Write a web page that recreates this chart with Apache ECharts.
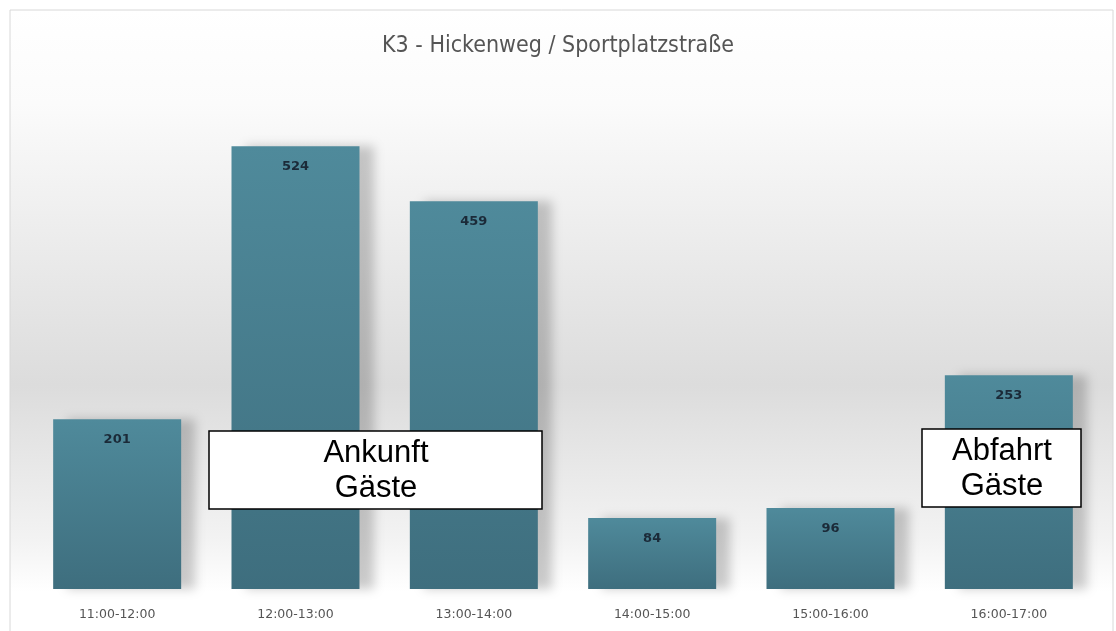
<!DOCTYPE html>
<html><head><meta charset="utf-8">
<script src="https://cdn.jsdelivr.net/npm/echarts@6/dist/echarts.min.js"></script>
<style>html,body{margin:0;padding:0;background:#fff}#c{width:1116px;height:631px}</style>
</head><body><div id="c"></div>
<script>
const categories = ['11:00-12:00','12:00-13:00','13:00-14:00','14:00-15:00','15:00-16:00','16:00-17:00'];
const values = [201, 524, 459, 84, 96, 253];
const titleText = 'K3 - Hickenweg / Sportplatzstraße';
const notes = ['Ankunft\nGäste', 'Abfahrt\nGäste'];

const chart = echarts.init(document.getElementById('c'));
chart.setOption({
  animation: false,
  backgroundColor: '#fff',
  title: { text: titleText, left: 'center', top: 30,
    textStyle: { fontFamily: 'DejaVu Sans Condensed', fontWeight: 'normal', fontSize: 23, color: '#555' } },
  graphic: [
    { type: 'rect', z: -10, silent: true, shape: { x: 10, y: 10, width: 1103, height: 625 },
      style: { stroke: '#d8d8d8', lineWidth: 1,
        fill: { type: 'linear', x: 0, y: 0, x2: 0, y2: 1, colorStops: [
          { offset: 0, color: '#ffffff' }, { offset: 0.15, color: '#fbfbfb' },
          { offset: 0.6, color: '#dcdcdc' }, { offset: 0.85, color: '#f3f3f3' }, { offset: 0.93, color: '#ffffff' }, { offset: 1, color: '#ffffff' } ] } } },
    { type: 'rect', zlevel: 1, z: 100, shape: { x: 209, y: 431, width: 333, height: 78 }, style: { fill: '#fff', stroke: '#000', lineWidth: 1.5 } },
    { type: 'text', zlevel: 1, z: 101, style: { x: 376, y: 471, text: notes[0], align: 'center', verticalAlign: 'middle', font: '31px "Liberation Sans"', lineHeight: 35, fill: '#000' } },
    { type: 'rect', zlevel: 1, z: 100, shape: { x: 922, y: 429, width: 159, height: 78 }, style: { fill: '#fff', stroke: '#000', lineWidth: 1.5 } },
    { type: 'text', zlevel: 1, z: 101, style: { x: 1002, y: 469, text: notes[1], align: 'center', verticalAlign: 'middle', font: '31px "Liberation Sans"', lineHeight: 35, fill: '#000' } }
  ],
  grid: { left: 28, right: 18, top: 82, bottom: 42 },
  xAxis: { type: 'category', data: categories,
    axisLine: { show: false }, axisTick: { show: false },
    axisLabel: { margin: 19, fontSize: 12.5, color: '#555', fontFamily: 'DejaVu Sans' } },
  yAxis: { type: 'value', min: 0, max: 600, show: false, splitLine: { show: false } },
  series: [{
    type: 'bar', data: values, barWidth: 128,
    itemStyle: {
      color: { type: 'linear', x: 0, y: 0, x2: 0, y2: 1, colorStops: [
        { offset: 0, color: '#4f8a9b' }, { offset: 1, color: '#3e6e7e' } ] },
      shadowColor: 'rgba(0,0,0,0.2)', shadowBlur: 10, shadowOffsetX: 14, shadowOffsetY: 0
    },
    label: { show: true, position: 'insideTop', distance: 14, color: '#1b2a38', fontSize: 13, fontWeight: 'bold', fontFamily: 'DejaVu Sans' }
  }]
});
</script></body></html>
